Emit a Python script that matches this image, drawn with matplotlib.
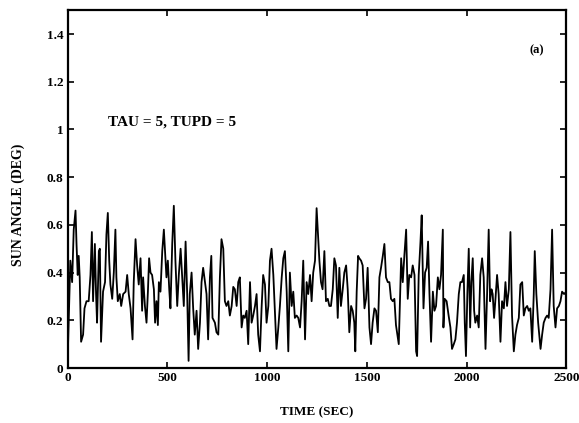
import matplotlib
matplotlib.use("Agg")
import matplotlib.pyplot as plt

# sun angle error trace (time in sec, angle in deg)
time_sec = [
    0, 13, 22, 30, 39, 44, 50, 55, 60, 67, 77, 84, 94, 105, 114, 121, 127, 136,
    142, 147, 156, 161, 167, 177, 187, 194, 201, 208, 214, 223, 231, 239, 244,
    251, 261, 268, 278, 290, 298, 306, 315, 325, 331, 340, 348, 356, 365, 373,
    378, 387, 395, 402, 408, 415, 423, 432, 438, 445, 452, 457, 465, 474, 482,
    489, 495, 502, 509, 515, 524, 532, 540, 549, 557, 566, 574, 582, 591, 599,
    606, 612, 621, 629, 637, 646, 654, 663, 671, 679, 688, 696, 704, 713, 720,
    726, 738, 746, 755, 763, 771, 780, 788, 796, 805, 813, 822, 830, 838, 847,
    855, 863, 872, 880, 888, 897, 905, 914, 922, 930, 939, 947, 955, 964, 972,
    980, 989, 997, 1006, 1014, 1022, 1031, 1039, 1047, 1056, 1064, 1073, 1081,
    1089, 1098, 1106, 1114, 1123, 1131, 1139, 1148, 1156, 1165, 1173, 1181,
    1190, 1198, 1206, 1215, 1223, 1231, 1240, 1248, 1262, 1270, 1278, 1287,
    1295, 1304, 1312, 1320, 1329, 1337, 1345, 1354, 1362, 1370, 1379, 1387,
    1396, 1404, 1412, 1421, 1429, 1437, 1442, 1449, 1456, 1462, 1471, 1479,
    1488, 1496, 1504, 1513, 1521, 1529, 1538, 1546, 1555, 1563, 1571, 1580,
    1588, 1596, 1605, 1613, 1621, 1630, 1638, 1646, 1660, 1672, 1680, 1688,
    1697, 1705, 1713, 1722, 1730, 1739, 1747, 1752, 1760, 1769, 1775, 1784,
    1792, 1800, 1807, 1814, 1822, 1831, 1839, 1847, 1856, 1864, 1872, 1881,
    1884, 1890, 1900, 1910, 1919, 1927, 1936, 1944, 1952, 1961, 1969, 1977,
    1986, 1991, 1997, 2004, 2011, 2018, 2024, 2031, 2038, 2044, 2053, 2061,
    2069, 2078, 2086, 2095, 2103, 2111, 2118, 2125, 2131, 2138, 2145, 2153,
    2161, 2170, 2178, 2187, 2195, 2203, 2212, 2220, 2228, 2237, 2245, 2253,
    2262, 2270, 2279, 2287, 2295, 2304, 2312, 2320, 2329, 2337, 2342, 2350,
    2359, 2371, 2379, 2387, 2396, 2404, 2412, 2421, 2429, 2437, 2446, 2454,
    2463, 2471, 2479, 2489, 2500,
]
sun_angle = [
    0.05, 0.45, 0.36, 0.58, 0.66, 0.52, 0.39, 0.47, 0.38, 0.11, 0.14, 0.25,
    0.28, 0.28, 0.39, 0.57, 0.28, 0.52, 0.31, 0.19, 0.49, 0.50, 0.11, 0.32,
    0.36, 0.56, 0.65, 0.45, 0.35, 0.29, 0.40, 0.58, 0.38, 0.28, 0.31, 0.26,
    0.31, 0.32, 0.39, 0.31, 0.25, 0.12, 0.36, 0.54, 0.43, 0.35, 0.46, 0.24,
    0.38, 0.26, 0.19, 0.32, 0.46, 0.40, 0.39, 0.33, 0.19, 0.28, 0.18, 0.36,
    0.32, 0.49, 0.58, 0.47, 0.38, 0.45, 0.33, 0.25, 0.52, 0.68, 0.45, 0.26,
    0.39, 0.50, 0.38, 0.26, 0.53, 0.31, 0.03, 0.31, 0.40, 0.25, 0.14, 0.24,
    0.08, 0.19, 0.36, 0.42, 0.36, 0.31, 0.12, 0.38, 0.47, 0.21, 0.19, 0.15,
    0.14, 0.38, 0.54, 0.50, 0.28, 0.26, 0.28, 0.22, 0.26, 0.34, 0.33, 0.26,
    0.36, 0.38, 0.17, 0.22, 0.21, 0.24, 0.10, 0.36, 0.19, 0.22, 0.26, 0.31,
    0.14, 0.07, 0.25, 0.39, 0.35, 0.19, 0.26, 0.45, 0.50, 0.39, 0.24, 0.08,
    0.17, 0.26, 0.38, 0.46, 0.49, 0.32, 0.07, 0.40, 0.26, 0.32, 0.21, 0.22,
    0.21, 0.17, 0.28, 0.45, 0.12, 0.36, 0.31, 0.39, 0.28, 0.40, 0.45, 0.67,
    0.45, 0.36, 0.33, 0.49, 0.28, 0.29, 0.26, 0.26, 0.33, 0.46, 0.43, 0.21,
    0.42, 0.26, 0.33, 0.40, 0.43, 0.33, 0.15, 0.26, 0.24, 0.19, 0.07, 0.32,
    0.47, 0.46, 0.45, 0.43, 0.25, 0.29, 0.42, 0.17, 0.10, 0.19, 0.25, 0.24,
    0.15, 0.38, 0.42, 0.47, 0.52, 0.38, 0.36, 0.36, 0.29, 0.28, 0.29, 0.18,
    0.10, 0.46, 0.36, 0.47, 0.58, 0.29, 0.39, 0.38, 0.43, 0.39, 0.07, 0.05,
    0.39, 0.53, 0.64, 0.25, 0.40, 0.42, 0.53, 0.31, 0.11, 0.32, 0.24, 0.26,
    0.38, 0.33, 0.39, 0.58, 0.17, 0.29, 0.28, 0.22, 0.17, 0.08, 0.10, 0.12,
    0.19, 0.31, 0.36, 0.36, 0.39, 0.19, 0.05, 0.31, 0.50, 0.17, 0.36, 0.46,
    0.24, 0.19, 0.22, 0.17, 0.39, 0.46, 0.38, 0.08, 0.31, 0.58, 0.28, 0.33,
    0.31, 0.21, 0.29, 0.39, 0.31, 0.11, 0.28, 0.25, 0.36, 0.26, 0.33, 0.57,
    0.22, 0.07, 0.14, 0.18, 0.21, 0.35, 0.36, 0.22, 0.25, 0.26, 0.24, 0.25,
    0.11, 0.31, 0.49, 0.31, 0.19, 0.08, 0.14, 0.19, 0.21, 0.22, 0.21, 0.33,
    0.58, 0.26, 0.17, 0.25, 0.26, 0.28, 0.32, 0.31, 0.32,
]

x_ticks = [0, 500, 1000, 1500, 2000, 2500]
y_ticks = [0, 0.2, 0.4, 0.6, 0.8, 1.0, 1.2, 1.4]
y_tick_labels = ["0", "0.2", "0.4", "0.6", "0.8", "1", "1.2", "1.4"]

plt.rcParams['font.family'] = ['Liberation Serif', 'DejaVu Serif']
plt.rcParams['font.weight'] = 'bold'

fig = plt.figure(figsize=(5.79, 4.23), dpi=100)
ax = fig.add_axes([0.117, 0.130, 0.861, 0.846])

ax.plot(time_sec, sun_angle, color='black', linewidth=1.3)

ax.set_xlim(0, 2500)
ax.set_ylim(0, 1.5)
ax.set_xticks(x_ticks)
ax.set_yticks(y_ticks)
ax.set_yticklabels(y_tick_labels)
ax.tick_params(direction='in', top=True, right=True, length=4, width=1.2,
               labelsize=9.5, pad=3)
for lbl in ax.get_xticklabels() + ax.get_yticklabels():
    lbl.set_fontweight('bold')
for sp in ax.spines.values():
    sp.set_linewidth(1.6)

ax.text(200, 1.03, "TAU = 5, TUPD = 5", fontsize=11, fontweight='bold',
        va='center', ha='left')
ax.text(2350, 1.33, "(a)", fontsize=9, fontweight='bold', va='center', ha='center')

fig.text(317 / 579, 0.026, "TIME (SEC)", fontsize=9.5,
         fontweight='bold', ha='center', va='center')
fig.text(18 / 579, 1 - 205 / 423, "SUN ANGLE (DEG)", fontsize=10,
         fontweight='bold', rotation=90, ha='center', va='center')

plt.savefig("out.png", dpi=100)
